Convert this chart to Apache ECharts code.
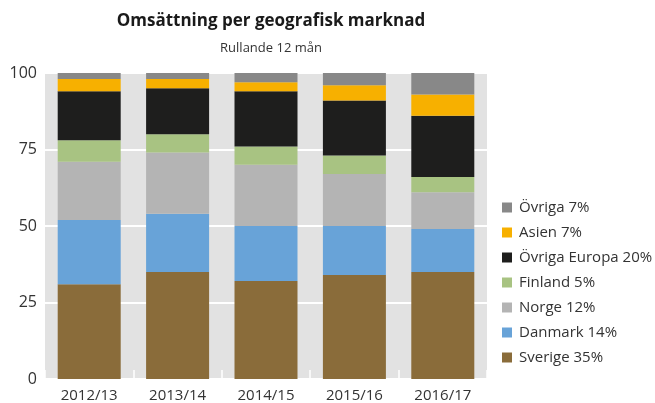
<!DOCTYPE html>
<html>
<head>
<meta charset="utf-8">
<script src="https://cdn.jsdelivr.net/npm/echarts@6/dist/echarts.min.js"></script>
<style>
  html, body { margin: 0; padding: 0; background: #fff; }
  #chart { width: 655px; height: 403px; }
</style>
</head>
<body>
<div id="chart"></div>
<script>
// perioder (x-axel)
const periods = ["2012/13", "2013/14", "2014/15", "2015/16", "2016/17"];

// andel av omsättning per marknad, %
const sverige = [31, 35, 32, 34, 35];
const danmark = [21, 19, 18, 16, 14];
const norge = [19, 20, 20, 17, 12];
const finland = [7, 6, 6, 6, 5];
const ovrigaEuropa = [16, 15, 18, 18, 20];
const asien = [4, 3, 3, 5, 7];
const ovriga = [2, 2, 3, 4, 7];

// legendens procentsatser (senaste året)
const marketNames = ["Sverige", "Danmark", "Norge", "Finland", "Övriga Europa", "Asien", "Övriga"];
const marketShares = [35, 14, 12, 5, 20, 7, 7];
const yTicks = [0, 25, 50, 75, 100];

const colors = ["#8a6c3a", "#68a3d8", "#b4b4b4", "#a8c382", "#1e1e1d", "#f7b000", "#888888"];
const seriesData = [sverige, danmark, norge, finland, ovrigaEuropa, asien, ovriga];
const font = "'Open Sans', 'Noto Sans', sans-serif";

const chart = echarts.init(document.getElementById("chart"));
chart.setOption({
  animation: false,
  color: colors,
  textStyle: { fontFamily: font },
  title: {
    text: "Omsättning per geografisk marknad",
    subtext: "Rullande 12 mån",
    left: 266,
    textAlign: "center",
    top: 8,
    itemGap: 12,
    textStyle: { fontSize: 17, fontWeight: "bold", color: "#1a1a1a", fontFamily: font },
    subtextStyle: { fontSize: 13, color: "#333", fontFamily: font },
  },
  legend: {
    orient: "vertical",
    left: 497,
    top: 195,
    itemWidth: 10,
    itemHeight: 10,
    itemGap: 10,
    icon: "rect",
    data: marketNames.slice().reverse(),
    formatter: function (name) {
      return name + " " + marketShares[marketNames.indexOf(name)] + "%";
    },
    textStyle: { fontSize: 15, lineHeight: 15, color: "#333", fontFamily: font, padding: [0, 0, 0, 2] },
  },
  grid: {
    left: 45,
    right: 168,
    top: 73,
    bottom: 24,
    show: true,
    backgroundColor: "#e2e2e2",
    borderWidth: 0,
  },
  xAxis: {
    type: "category",
    data: periods,
    axisLine: { show: false },
    axisTick: { show: true, inside: true, length: 9, lineStyle: { color: "#fff", width: 1.5 } },
    axisLabel: { fontSize: 15, color: "#333", margin: 9 },
  },
  yAxis: {
    type: "value",
    min: yTicks[0],
    max: yTicks[yTicks.length - 1],
    interval: 25,
    axisLine: { show: false },
    axisTick: { show: false },
    splitLine: { show: true, lineStyle: { color: "#fff", width: 2 } },
    axisLabel: { fontSize: 16, color: "#333", margin: 8 },
  },
  series: marketNames.map(function (name, i) {
    return {
      name: name,
      type: "bar",
      stack: "total",
      barWidth: 63,
      data: seriesData[i],
    };
  }),
});
</script>
</body>
</html>
